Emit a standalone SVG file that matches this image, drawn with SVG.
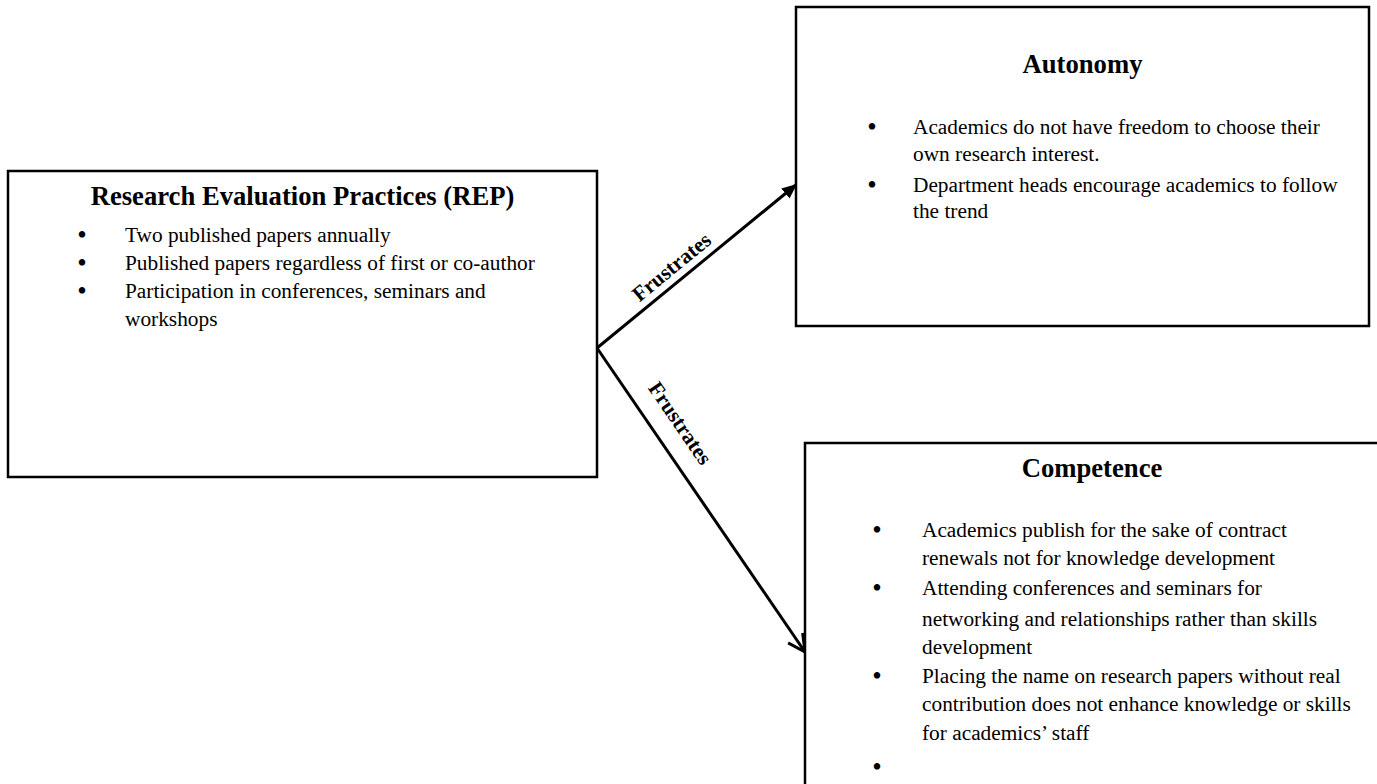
<svg xmlns="http://www.w3.org/2000/svg" width="1377" height="784" viewBox="0 0 1377 784">
<style>
.box{fill:#fff;stroke:#000;stroke-width:2.5}
.title{font-family:"Liberation Serif","Times New Roman",serif;font-weight:bold;font-size:26.67px;text-anchor:middle;fill:#000}
.body{font-family:"Liberation Serif","Times New Roman",serif;font-size:21.33px;fill:#000}
.bul{font-family:"Liberation Serif","Times New Roman",serif;font-size:27px;text-anchor:middle;fill:#000}
.lbl{font-family:"Liberation Serif","Times New Roman",serif;font-weight:bold;font-size:21.33px;text-anchor:middle;fill:#000}
.conn{stroke:#000;stroke-width:3;fill:none}
</style>
<defs>
<marker id="filled" markerUnits="userSpaceOnUse" markerWidth="16" markerHeight="14" refX="15" refY="6.5" orient="auto">
<path d="M0,0 L15,6.5 L0,13 z" fill="#000"/>
</marker>
<marker id="open" markerUnits="userSpaceOnUse" markerWidth="24" markerHeight="24" refX="19" refY="10" orient="auto">
<path d="M2,1.2 L19,10 L2,18.8" fill="none" stroke="#000" stroke-width="3" stroke-linejoin="round"/>
</marker>
</defs>
<rect width="1377" height="784" fill="#fff"/>
<g id="connectors">
<line class="conn" x1="597" y1="348" x2="797" y2="184" marker-end="url(#filled)"/>
<line class="conn" x1="597" y1="348" x2="805" y2="652" marker-end="url(#open)"/>
<text class="lbl" transform="translate(676,272.5) rotate(-39.4)">Frustrates</text>
<text class="lbl" transform="translate(674.3,427.2) rotate(55.6)">Frustrates</text>
</g>
<g id="rep">
<rect class="box" x="8" y="171" width="589" height="306"/>
<text class="title" x="302.5" y="205">Research Evaluation Practices (REP)</text>
<text class="bul" x="82" y="244">•</text>
<text class="body" x="125" y="242">Two published papers annually</text>
<text class="bul" x="82" y="272">•</text>
<text class="body" x="125" y="270">Published papers regardless of first or co-author</text>
<text class="bul" x="82" y="300">•</text>
<text class="body" x="125" y="298">Participation in conferences, seminars and</text>
<text class="body" x="125" y="326">workshops</text>
</g>
<g id="autonomy">
<rect class="box" x="796" y="7" width="573" height="319"/>
<text class="title" x="1082.5" y="73">Autonomy</text>
<text class="bul" x="872" y="136">•</text>
<text class="body" x="913" y="134">Academics do not have freedom to choose their</text>
<text class="body" x="913" y="161">own research interest.</text>
<text class="bul" x="872" y="194">•</text>
<text class="body" x="913" y="192">Department heads encourage academics to follow</text>
<text class="body" x="913" y="218">the trend</text>
</g>
<g id="competence">
<rect class="box" x="805" y="443" width="580" height="350"/>
<text class="title" x="1092" y="477">Competence</text>
<text class="bul" x="877" y="539">•</text>
<text class="body" x="922" y="537">Academics publish for the sake of contract</text>
<text class="body" x="922" y="565">renewals not for knowledge development</text>
<text class="bul" x="877" y="597">•</text>
<text class="body" x="922" y="595">Attending conferences and seminars for</text>
<text class="body" x="922" y="626">networking and relationships rather than skills</text>
<text class="body" x="922" y="654">development</text>
<text class="bul" x="877" y="685">•</text>
<text class="body" x="922" y="683">Placing the name on research papers without real</text>
<text class="body" x="922" y="711">contribution does not enhance knowledge or skills</text>
<text class="body" x="922" y="740">for academics’ staff</text>
<text class="bul" x="877" y="776">•</text>
</g>
</svg>
